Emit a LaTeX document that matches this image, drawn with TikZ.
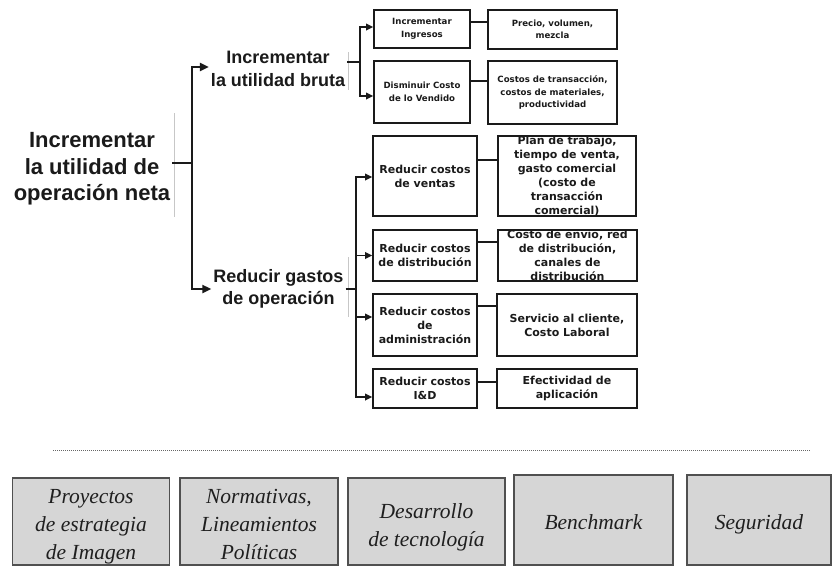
\documentclass[tikz,border=0pt]{standalone}
\usepackage{fontspec}
\setmainfont{Liberation Serif}
\setsansfont{Liberation Sans}
\newfontfamily\boxfont{DejaVu Sans}
\usetikzlibrary{arrows.meta}
\definecolor{ink}{RGB}{26,26,26}
\definecolor{tilegray}{RGB}{214,214,214}
\definecolor{tileedge}{RGB}{80,80,80}

\begin{document}
\begin{tikzpicture}[x=1pt,y=-1pt,
  every node/.style={inner sep=0pt},
  roottext/.style={font=\sffamily\bfseries\fontsize{22}{26.5}\selectfont, align=center, inner sep=2pt, text=ink},
  midtext/.style={font=\sffamily\bfseries\fontsize{18}{22.5}\selectfont, align=center, inner sep=2pt, text=ink},
  busline/.style={draw=ink, line width=2.2pt},
  busarrow/.style={busline, -{Triangle[length=9pt,width=8pt]}},
  subarrow/.style={draw=ink, line width=1.7pt, -{Triangle[length=7pt,width=6.5pt]}},
  cellbox/.style={draw=ink, line width=1.6pt, rectangle, align=center, text=ink,
    font=\boxfont\bfseries\fontsize{8.6}{12.5}\selectfont},
  cellboxl/.style={cellbox, font=\boxfont\bfseries\fontsize{11}{14}\selectfont},
  linkline/.style={draw=ink, line width=1.2pt},
  faintline/.style={draw=black!22, line width=0.6pt},
  tilebox/.style={draw=tileedge, line width=1.4pt, fill=tilegray, rectangle},
  tiletext/.style={align=center, text=black!88, font=\itshape\fontsize{21.5}{28}\selectfont},
]
\useasboundingbox (0,0) rectangle (832,566);

% --- objective tree --------------------------------------------------
\node[roottext] (root) at (92,169) {Incrementar\\la utilidad de\\operación neta};
\node[midtext] (bruta) at (278,69) {Incrementar\\la utilidad bruta};
\node[midtext] (gastos) at (278.5,289) {Reducir gastos\\de operación};

% thin remnants of the text frames
\draw[faintline] (174,113) -- (174,217);
\draw[faintline] (348,52) -- (348,90);
\draw[faintline] (348,257) -- (348,317);

% second level: gross profit
\node[cellbox, minimum width=96, minimum height=38] (A1) at (422,29) {Incrementar\\Ingresos};
\node[cellbox, minimum width=96, minimum height=62] (A2) at (422,92) {Disminuir Costo\\de lo Vendido};
\node[cellbox, minimum width=129, minimum height=39] (B1) at (552.5,29.5) {Precio, volumen,\\mezcla};
\node[cellbox, minimum width=129, minimum height=63] (B2) at (552.5,92.5) {Costos de transacción,\\costos de materiales,\\productividad};

% second level: operating expenses
\node[cellboxl, minimum width=104, minimum height=80] (C1) at (425,176) {Reducir costos\\de ventas};
\node[cellboxl, minimum width=104, minimum height=51] (C2) at (425,255.5) {Reducir costos\\de distribución};
\node[cellboxl, minimum width=104, minimum height=62] (C3) at (425,325) {Reducir costos\\de\\administración};
\node[cellboxl, minimum width=104, minimum height=39] (C4) at (425,388.5) {Reducir costos\\I\&D};
\node[cellboxl, minimum width=138, minimum height=80] (D1) at (567,176) {Plan de trabajo,\\tiempo de venta,\\gasto comercial\\(costo de\\transacción\\comercial)};
\node[cellboxl, minimum width=139, minimum height=51, inner ysep=-1pt] (D2) at (567.5,255.5) {Costo de envío, red\\de distribución,\\canales de\\distribución};
\node[cellboxl, minimum width=140, minimum height=62] (D3) at (567,325) {Servicio al cliente,\\Costo Laboral};
\node[cellboxl, minimum width=140, minimum height=39] (D4) at (567,388.5) {Efectividad de\\aplicación};

% junctions of the branching lines
\coordinate (j0) at (192,163);
\coordinate (j1) at (360,62);
\coordinate (j2) at (356,289);

% root branches
\draw[busline] ([yshift=6pt]root.east) -- (j0);
\draw[busarrow] (j0) |- ([yshift=2pt]bruta.west);
\draw[busarrow] (j0) |- (gastos.west);

% gross profit branches
\draw[busline] ([yshift=7pt]bruta.east) -- (j1);
\draw[subarrow] (j1) |- ([yshift=2pt]A1.west);
\draw[subarrow] (j1) |- ([yshift=-4pt]A2.west);

% operating expense branches
\coordinate (c1a) at ([yshift=-1pt]C1.west);
\coordinate (c2a) at (C2.west);
\coordinate (c3a) at ([yshift=8pt]C3.west);
\coordinate (c4a) at ([yshift=-8.5pt]C4.west);
\draw[busline] (gastos.east) -- (gastos.east -| j2);
\draw[subarrow] (j2) |- (c1a);
\draw[subarrow] (j2) |- (c4a);
\draw[subarrow] (c2a -| j2) -- (c2a);
\draw[subarrow] (c3a -| j2) -- (c3a);

% links to the drivers
\coordinate (l1) at (0,22);
\coordinate (l2) at (0,81);
\coordinate (l3) at (0,160);
\coordinate (l4) at (0,242);
\coordinate (l5) at (0,306);
\coordinate (l6) at (0,382);
\draw[linkline] (A1.east |- l1) -- (B1.west |- l1);
\draw[linkline] (A2.east |- l2) -- (B2.west |- l2);
\draw[linkline] (C1.east |- l3) -- (D1.west |- l3);
\draw[linkline] (C2.east |- l4) -- (D2.west |- l4);
\draw[linkline] (C3.east |- l5) -- (D3.west |- l5);
\draw[linkline] (C4.east |- l6) -- (D4.west |- l6);

% --- separator ---------------------------------------------------------
\draw[black!60, line width=1pt, dash pattern=on 0.9pt off 1.1pt] (53,450) -- (810,450);

% --- supporting initiatives -----------------------------------------------
\node[tilebox, minimum width=157, minimum height=87] (E1) at (91,521.5) {};
\node[tilebox, minimum width=158, minimum height=87] (E2) at (259,521.5) {};
\node[tilebox, minimum width=157, minimum height=87] (E3) at (426.5,521.5) {};
\node[tilebox, minimum width=159, minimum height=90] (E4) at (593.5,520) {};
\node[tilebox, minimum width=144, minimum height=90] (E5) at (759,520) {};
\node[tiletext] (E1t) at ([yshift=-5.5pt]E1.center) {Proyectos\\de estrategia\\de Imagen};
\node[tiletext] (E2t) at ([yshift=-3pt]E2.center) {Normativas,\\Lineamientos\\Políticas};
\node[tiletext] (E3t) at ([yshift=-6pt]E3.center) {Desarrollo\\de tecnología};
\node[tiletext] (E4t) at ([yshift=-2pt]E4.center) {Benchmark};
\node[tiletext] (E5t) at ([yshift=-4pt]E5.center) {Seguridad};
\end{tikzpicture}
\end{document}
